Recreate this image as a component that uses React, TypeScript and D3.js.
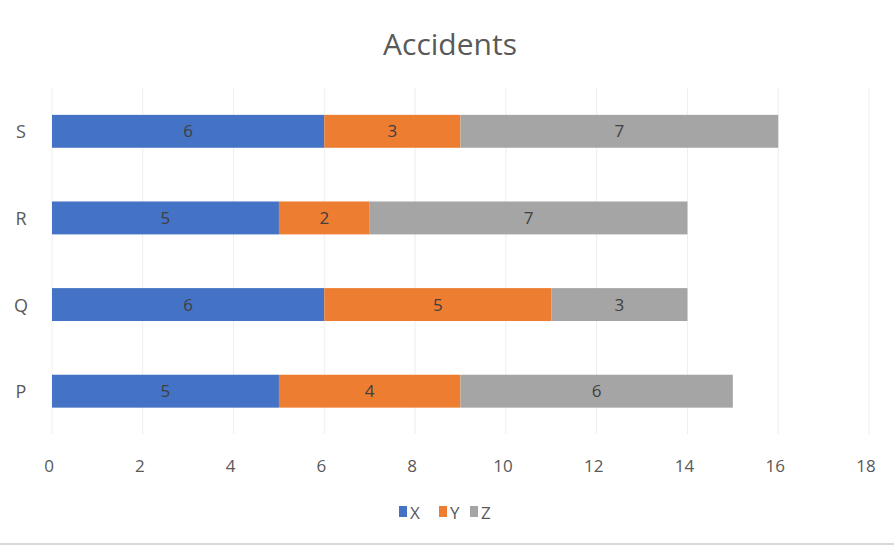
import React from "react";
import * as d3 from "d3";

const categories = ["S", "R", "Q", "P"];
const seriesNames = ["X", "Y", "Z"];
const xValues = [6, 5, 6, 5];
const yValues = [3, 2, 5, 4];
const zValues = [7, 7, 3, 6];
const xTicks = [0, 2, 4, 6, 8, 10, 12, 14, 16, 18];
const colors = ["#4472C4", "#ED7D31", "#A5A5A5"];

const W = 894;
const H = 547;
const FONT = "'Open Sans', 'Noto Sans', sans-serif";

export default function App() {
  const x = d3.scaleLinear().domain([0, 18]).range([52, 869]);
  const y = d3.scaleBand().domain(categories).range([88, 434.5]).paddingInner(0.62).paddingOuter(0.31);

  const rows = categories.map((c, i) => ({ cat: c, X: xValues[i], Y: yValues[i], Z: zValues[i] }));
  const stack = d3.stack<any>().keys(seriesNames)(rows);

  const legendX = [399, 439, 470];

  return (
    <svg width={W} height={H} style={{ position: "absolute", left: 0, top: 0, background: "#fff" }} fontFamily={FONT}>
      <rect x={0} y={0} width={W} height={H} fill="#fff" />
      <text x={450} y={55} textAnchor="middle" fontSize={30} fill="#595959">Accidents</text>
      {xTicks.map((t) => (
        <line key={"g" + t} x1={x(t)} x2={x(t)} y1={88} y2={434} stroke="#EEEEEE" strokeWidth={1} />
      ))}
      {stack.map((s, si) =>
        s.map((d, di) => (
          <g key={si + "-" + di}>
            <rect
              x={x(d[0])}
              y={y(categories[di])!}
              width={x(d[1]) - x(d[0])}
              height={y.bandwidth()}
              fill={colors[si]}
            />
            <text
              x={(x(d[0]) + x(d[1])) / 2}
              y={y(categories[di])! + y.bandwidth() / 2 + 6}
              textAnchor="middle"
              fontSize={17}
              fill="#404040"
            >
              {d[1] - d[0]}
            </text>
          </g>
        ))
      )}
      {categories.map((c) => (
        <text key={"c" + c} x={21} y={y(c)! + y.bandwidth() / 2 + 7} textAnchor="middle" fontSize={18} fill="#595959">
          {c}
        </text>
      ))}
      {xTicks.map((t) => (
        <text key={"t" + t} x={x(t) - 3} y={472} textAnchor="middle" fontSize={17} fill="#595959">
          {t}
        </text>
      ))}
      {seriesNames.map((n, i) => (
        <g key={"l" + n}>
          <rect x={legendX[i]} y={506} width={8} height={11} fill={colors[i]} />
          <text x={legendX[i] + 11} y={519} fontSize={17} fill="#595959">{n}</text>
        </g>
      ))}
      <line x1={0} x2={W} y1={544} y2={544} stroke="#D9D9D9" strokeWidth={2} />
    </svg>
  );
}
